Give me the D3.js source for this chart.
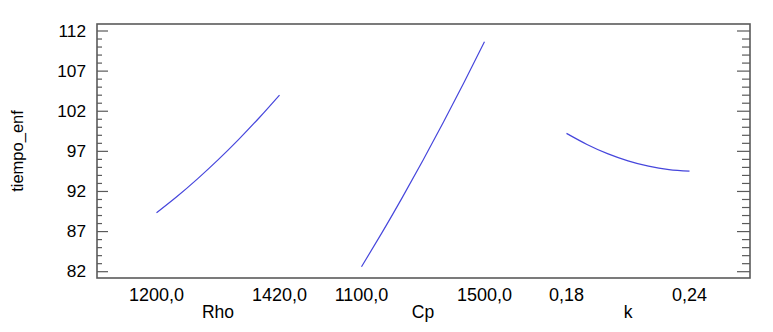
<!DOCTYPE html>
<html>
<head>
<meta charset="utf-8">
<script src="https://cdn.jsdelivr.net/npm/d3@7"></script>
<style>
  html, body { margin: 0; padding: 0; background: #fff; }
  svg text { font-family: "Liberation Sans", Arial, sans-serif; fill: #000; }
</style>
</head>
<body>
<svg id="chart" width="773" height="332"></svg>
<script>
// ---- data ----
const factors = ["Rho", "Cp", "k"];
const factorLow = [1200, 1100, 0.18];
const factorHigh = [1420, 1500, 0.24];
const lowLabels = ["1200,0", "1100,0", "0,18"];
const highLabels = ["1420,0", "1500,0", "0,24"];
// response (tiempo_enf) read at 7 equally spaced positions from low to high
const rhoValues = [89.34, 91.37, 93.57, 95.93, 98.46, 101.16, 104.02];
const cpValues = [82.61, 86.87, 91.3, 95.89, 100.65, 105.58, 110.67];
const kValues = [99.24, 97.86, 96.72, 95.82, 95.15, 94.73, 94.54];
const yTicks = [82, 87, 92, 97, 102, 107, 112];
const yLabel = "tiempo_enf";

const seriesValues = [rhoValues, cpValues, kValues];

// ---- layout ----
const svg = d3.select("#chart");
const plotLeft = 97, plotRight = 750, plotTop = 24, plotBottom = 278;

const y = d3.scaleLinear().domain([82, 112]).range([271.7, 31]);
const band = d3.scaleBand().domain(factors).range([115.5, 730.5]).paddingInner(0).paddingOuter(0);

// frame
svg.append("rect")
  .attr("x", plotLeft).attr("y", plotTop)
  .attr("width", plotRight - plotLeft).attr("height", plotBottom - plotTop)
  .attr("fill", "none").attr("stroke", "#5a5a5a").attr("stroke-width", 1.6);

// minor/major ticks
const allTicks = d3.range(82, 112.5, 1);
const tickG = svg.append("g").attr("stroke", "#5a5a5a").attr("stroke-width", 1.2);
allTicks.forEach(v => {
  const major = yTicks.includes(v);
  tickG.append("line")
    .attr("x1", plotLeft).attr("x2", plotLeft + (major ? 11 : 5))
    .attr("y1", y(v)).attr("y2", y(v));
  tickG.append("line")
    .attr("x1", plotRight).attr("x2", plotRight - (major ? 13 : 8))
    .attr("y1", y(v)).attr("y2", y(v));
});

// y tick labels
svg.append("g").selectAll("text").data(yTicks).join("text")
  .attr("x", 86).attr("y", d => y(d)).attr("dy", "0.36em")
  .attr("text-anchor", "end")
  .attr("font-size", 16)
  .attr("transform", `translate(${86 * (1 - 1.08)},0) scale(1.08,1)`)
  .text(d => d);

// y label
svg.append("text")
  .attr("transform", "translate(23,151) rotate(-90)")
  .attr("text-anchor", "middle")
  .attr("font-size", 16.5)
  .text(yLabel);

// panels
factors.forEach((f, i) => {
  const c = band(f) + band.bandwidth() / 2;
  const half = band.step() * 0.3;
  const x = d3.scaleLinear().domain([factorLow[i], factorHigh[i]]).range([c - half, c + half]);
  const vals = seriesValues[i];
  const n = vals.length;
  const pts = vals.map((v, j) => [x(factorLow[i] + (factorHigh[i] - factorLow[i]) * j / (n - 1)), y(v)]);
  svg.append("path")
    .attr("d", d3.line().curve(d3.curveNatural)(pts))
    .attr("fill", "none")
    .attr("stroke", "#4646dc")
    .attr("stroke-width", 1.2);

  // tick labels (low/high)
  [[factorLow[i], lowLabels[i]], [factorHigh[i], highLabels[i]]].forEach(([v, lab]) => {
    svg.append("text")
      .attr("x", x(v)).attr("y", 301)
      .attr("text-anchor", "middle")
      .attr("font-size", 18)
      .text(lab);
  });
  svg.append("text")
    .attr("x", c).attr("y", 318)
    .attr("text-anchor", "middle")
    .attr("font-size", 17.5)
    .text(f);
});
</script>
</body>
</html>
